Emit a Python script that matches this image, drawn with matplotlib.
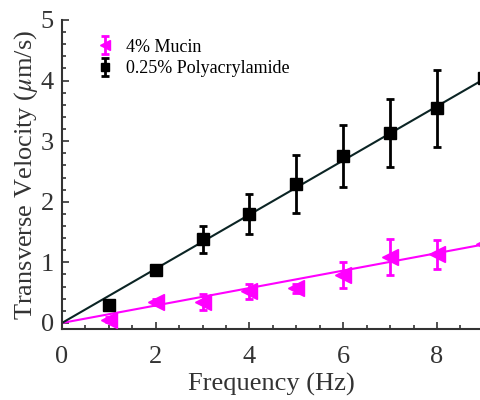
import matplotlib
matplotlib.use("Agg")
import matplotlib.pyplot as plt
import numpy as np

freq = [1, 2, 3, 4, 5, 6, 7, 8, 9]
mucin_v = [0.05, 0.34, 0.35, 0.52, 0.57, 0.79, 1.09, 1.13, 1.30]
mucin_err = [0.04, 0.05, 0.13, 0.13, 0.08, 0.21, 0.30, 0.24, 0.10]
poly_v = [0.30, 0.875, 1.38, 1.80, 2.30, 2.76, 3.13, 3.54, 4.05]
poly_err = [0.05, 0.08, 0.22, 0.33, 0.48, 0.51, 0.56, 0.63, 0.10]
mucin_slope = 0.144
poly_slope = 0.447
fit_x = [0, 9.5]

plt.rcParams['font.family'] = ['Liberation Serif', 'DejaVu Serif']
plt.rcParams['mathtext.fontset'] = 'stix'

fig = plt.figure(figsize=(4.81, 4.0), dpi=100)
ax = fig.add_axes([62/481, 71/400, (481-62)/481, (329-20)/400])

magenta = '#ff00ff'
black = '#000000'

ax.plot(fit_x, [mucin_slope * x for x in fit_x], color=magenta, lw=1.5, zorder=2)
ax.plot(fit_x, [poly_slope * x for x in fit_x], color='#0b2424', lw=1.5, zorder=2)

ax.errorbar(freq, mucin_v, yerr=mucin_err, fmt='<', color=magenta, ms=11,
            elinewidth=2, capsize=3, capthick=2, label='4% Mucin', zorder=3)
ax.errorbar(freq, poly_v, yerr=poly_err, fmt='s', color=black, ms=9,
            elinewidth=2, capsize=3, capthick=2, label='0.25% Polyacrylamide', zorder=3)

ax.set_xlim(0, 8.94)
ax.set_ylim(-0.1, 5)
ax.set_xticks([0, 2, 4, 6, 8])
ax.set_yticks([0, 1, 2, 3, 4, 5])
ax.set_xticks(np.arange(0, 9, 0.5), minor=True)
ax.set_yticks(np.arange(0, 5.01, 0.2), minor=True)
ax.tick_params(which='both', direction='in', labelsize=19, colors='#333333',
               labelcolor='#333333', width=1.2)
ax.tick_params(axis='x', which='major', pad=12)
ax.tick_params(axis='y', which='major', pad=6)
ax.tick_params(which='major', length=5)
ax.tick_params(which='minor', length=3)
ax.spines['top'].set_visible(False)
ax.spines['right'].set_visible(False)
for s in ['left', 'bottom']:
    ax.spines[s].set_linewidth(1.5)
    ax.spines[s].set_color('#333333')

ax.set_xlabel('Frequency (Hz)', fontsize=19, color='#333333', labelpad=4)
ax.set_ylabel(r'Transverse Velocity ($\mu$m/s)', fontsize=19, color='#333333', labelpad=0)

leg = ax.legend(loc='upper left', bbox_to_anchor=(0.05, 0.975), frameon=False,
                fontsize=13, handletextpad=0.6, borderaxespad=0.2, labelspacing=0.25,
                handlelength=1.2, markerscale=0.7)

fig.savefig('out.png', dpi=100)
